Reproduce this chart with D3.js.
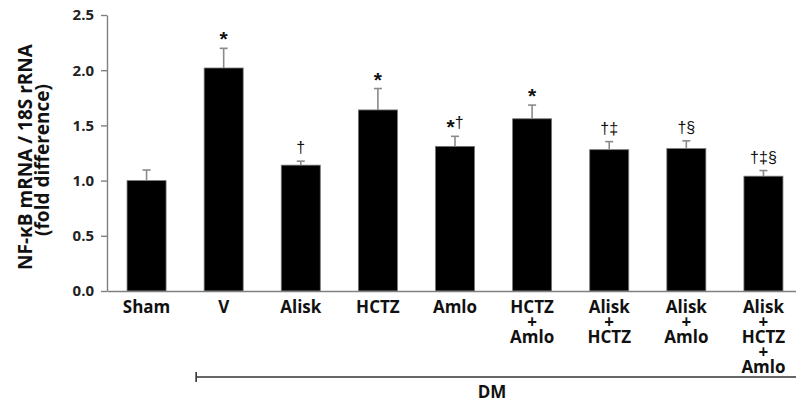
<!DOCTYPE html>
<html>
<head>
<meta charset="utf-8">
<script src="https://cdn.jsdelivr.net/npm/d3@7"></script>
<style>
  body { margin: 0; background: #fff; }
  svg { display: block; font-family: "Open Sans", sans-serif; }
</style>
</head>
<body>
<svg id="chart"></svg>
<script>
const groups = ["Sham", "V", "Alisk", "HCTZ", "Amlo", "HCTZ+Amlo", "Alisk+HCTZ", "Alisk+Amlo", "Alisk+HCTZ+Amlo"];
const means = [1.00, 2.02, 1.14, 1.64, 1.31, 1.56, 1.28, 1.29, 1.04];
const sems = [0.096, 0.178, 0.036, 0.194, 0.091, 0.124, 0.073, 0.07, 0.051];
const marks = ["", "*", "†", "*", "*†", "*", "†‡", "†§", "†‡§"];
const yTicks = [0, 0.5, 1.0, 1.5, 2.0, 2.5];

const w = 796;
const h = 407;

const svg = d3.select("#chart").attr("width", w).attr("height", h);

const x = d3.scaleBand().domain(groups).range([107, 803]).paddingInner(0.494).paddingOuter(0.26);
const y = d3.scaleLinear().domain([0, 2.5]).range([291, 15]);

const axisColor = "#808080";

// bars
svg.selectAll("rect.bar").data(groups).enter().append("rect")
  .attr("class", "bar")
  .attr("x", d => x(d))
  .attr("width", x.bandwidth())
  .attr("y", (d, i) => y(means[i]))
  .attr("height", (d, i) => y(0) - y(means[i]))
  .attr("fill", "#000")
  .attr("stroke", "#777")
  .attr("stroke-width", 0.8);

// error bars (upper only)
const err = svg.append("g").attr("stroke", "#8a8a8a").attr("stroke-width", 1.6);
groups.forEach((g, i) => {
  const cx = x(g) + x.bandwidth() / 2;
  err.append("line").attr("x1", cx).attr("x2", cx)
    .attr("y1", y(means[i])).attr("y2", y(means[i] + sems[i]));
  err.append("line").attr("x1", cx - 4).attr("x2", cx + 4)
    .attr("y1", y(means[i] + sems[i])).attr("y2", y(means[i] + sems[i]));
});

// significance marks
groups.forEach((g, i) => {
  if (!marks[i]) return;
  const cx = x(g) + x.bandwidth() / 2;
  const t = svg.append("text")
    .attr("x", cx)
    .attr("y", y(means[i] + sems[i]) - 8)
    .attr("text-anchor", "middle")
    .attr("font-family", "Liberation Sans, sans-serif")
    .attr("font-size", 16)
    .attr("fill", "#111");
  let shifted = false;
  Array.from(marks[i]).forEach(ch => {
    const s = t.append("tspan").text(ch);
    if (ch === "*" && !shifted) { s.attr("dy", 6).attr("font-size", 21).attr("font-weight", "bold"); shifted = true; }
    else if (shifted) { s.attr("dy", -6); shifted = false; }
  });
});

// y axis
const axisY = d3.axisLeft(y).tickValues(yTicks).tickFormat(d3.format(".1f")).tickSize(6).tickSizeOuter(0);
const gy = svg.append("g").attr("transform", "translate(107,0)").call(axisY);
gy.select(".domain").attr("stroke", axisColor).attr("stroke-width", 1.4);
gy.selectAll(".tick line").attr("stroke", axisColor).attr("stroke-width", 1.4);
gy.selectAll(".tick text").attr("font-size", 15).attr("font-weight", "bold")
  .attr("font-family", "Open Sans, sans-serif").attr("fill", "#222").attr("x", -13);

// x axis
const axisX = d3.axisBottom(x).tickSize(0).tickSizeOuter(0).tickFormat("");
const gx = svg.append("g").attr("transform", "translate(0," + y(0) + ")").call(axisX);
gx.select(".domain").attr("stroke", axisColor).attr("stroke-width", 1.6);
gx.selectAll(".tick").each(function (d) {
  const parts = d.split("+");
  const lines = [];
  parts.forEach((p, k) => { if (k > 0) lines.push("+"); lines.push(p); });
  const t = d3.select(this).append("text")
    .attr("fill", "#111").attr("font-size", 17).attr("font-weight", "bold")
    .attr("font-family", "Open Sans, sans-serif").attr("text-anchor", "middle");
  lines.forEach((l, k) => {
    t.append("tspan").attr("x", 0).attr("y", 22 + k * 15).text(l);
  });
});

// DM bracket
const bx = x("V") - 8;
const by = 377;
svg.append("line").attr("x1", bx).attr("x2", w).attr("y1", by).attr("y2", by)
  .attr("stroke", "#333").attr("stroke-width", 1.3);
svg.append("line").attr("x1", bx).attr("x2", bx).attr("y1", by - 5).attr("y2", by + 5)
  .attr("stroke", "#333").attr("stroke-width", 1.6);
svg.append("text").attr("x", 492).attr("y", 398).attr("text-anchor", "middle")
  .attr("font-size", 17).attr("font-weight", "bold").attr("fill", "#111").text("DM");

// y title
const title = svg.append("text").attr("transform", "translate(32,157) rotate(-90)")
  .attr("text-anchor", "middle").attr("font-size", 19).attr("font-weight", "bold").attr("fill", "#111");
title.append("tspan").attr("x", 0).attr("y", 0).text("NF-κB mRNA / 18S rRNA");
title.append("tspan").attr("x", -3).attr("y", 17).text("(fold difference)");
</script>
</body>
</html>
